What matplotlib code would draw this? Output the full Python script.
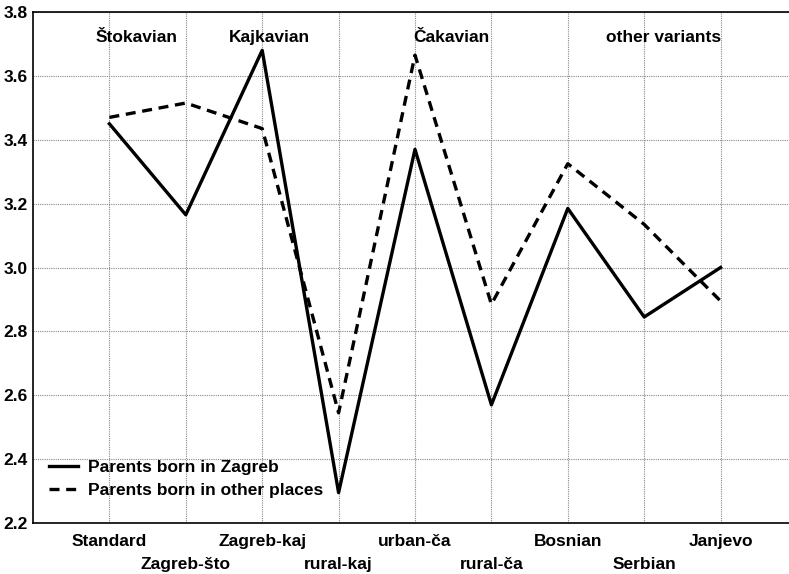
import matplotlib
matplotlib.use("Agg")
import matplotlib.pyplot as plt
import numpy as np

plt.rcParams['font.family'] = ['Liberation Sans', 'DejaVu Sans']
plt.rcParams['font.weight'] = 'bold'

# === Data ===
categories = ["Standard", "Zagreb-što", "Zagreb-kaj", "rural-kaj", "urban-ča",
              "rural-ča", "Bosnian", "Serbian", "Janjevo"]
zagreb = [3.45, 3.165, 3.68, 2.295, 3.37, 2.57, 3.185, 2.845, 3.00]
other = [3.47, 3.515, 3.435, 2.545, 3.665, 2.885, 3.325, 3.135, 2.895]

groups = ["Štokavian", "Kajkavian", "Čakavian", "other variants"]
group_x = [1.35, 3.1, 5.47, 8.25]

x = np.arange(1, len(categories) + 1)

fig = plt.figure(figsize=(7.89, 5.74), dpi=100)
ax = fig.add_axes([33/789, 51/574, 764/789, 511/574])

ax.plot(x, zagreb, color="black", lw=2.4, label="Parents born in Zagreb")
ax.plot(x, other, color="black", lw=2.4, ls=(0, (3, 2)), label="Parents born in other places")

ax.set_xlim(0, 10)
ax.set_ylim(2.2, 3.8)
ax.set_yticks(np.arange(2.2, 3.81, 0.2))
ax.set_yticklabels([f"{v:.1f}" for v in np.arange(2.2, 3.81, 0.2)], fontsize=12.5, fontweight="bold")
ax.set_xticks(x)
ax.set_xticklabels(categories, fontsize=12.5, fontweight="bold")
for i, lab in enumerate(ax.get_xticklabels()):
    if i % 2 == 1:
        lab.set_y(-0.045)
ax.tick_params(axis="both", length=0)
ax.tick_params(axis="x", pad=8)
ax.tick_params(axis="y", pad=4)

ax.grid(True, color="#888888", ls=(0, (1, 1)), lw=0.8)
ax.set_axisbelow(True)
for s in ax.spines.values():
    s.set_linewidth(1.2)

for g, gx in zip(groups, group_x):
    ax.text(gx, 3.72, g, ha="center", va="center", fontsize=12.5, fontweight="bold")

ax.legend(loc="lower left", bbox_to_anchor=(0.005, 0.025), frameon=False,
          prop={"size": 12.5, "weight": "bold"}, handlelength=1.7,
          handletextpad=0.55, labelspacing=0.45, borderaxespad=0.3)

plt.savefig("out.png", dpi=100)
